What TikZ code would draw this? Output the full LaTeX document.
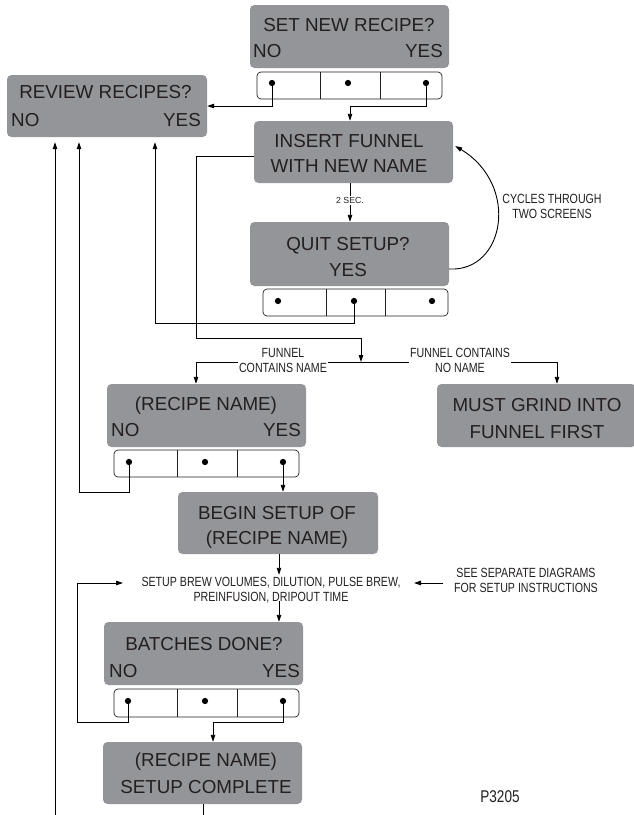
\documentclass[tikz,border=0pt]{standalone}
\usepackage{fontspec}
\setmainfont{Liberation Sans}
\newfontfamily\condfont[FakeStretch=0.8]{Liberation Sans}
\usetikzlibrary{arrows.meta,calc}
\definecolor{boxgray}{HTML}{939598}
\definecolor{ink}{HTML}{231F20}
\begin{document}
\begin{tikzpicture}[x=1pt,y=-1pt,
  scr/.style={fill=boxgray, rounded corners=4.5pt, inner sep=0pt, minimum width=199pt, minimum height=63pt},
  btns/.style={draw=ink, line width=0.7pt, fill=white, rounded corners=4pt, inner sep=0pt, minimum width=185pt, minimum height=27pt},
  divider/.style={draw=ink, line width=0.7pt},
  dot/.style={circle, fill=black, inner sep=0pt, minimum size=6.3pt},
  big/.style={text=ink, font=\fontsize{18.8}{22}\selectfont, inner sep=0pt, anchor=base},
  small/.style={text=ink, font=\condfont\fontsize{13.3}{15}\selectfont, align=center, inner sep=1pt},
  conn/.style={draw=black, line width=0.9pt},
  arr/.style={conn, -{Triangle[length=7pt,width=4.5pt]}},
]
\useasboundingbox[fill=white] (0,0) rectangle (633,815);

% ---------- screens ----------
\node[scr] (setnew) at (349.5,36.5) {};
\node[big] (setnewT) at (349,31) {SET NEW RECIPE?};
\node[big, anchor=base west] (setnewNo) at (253,57) {NO};
\node[big, anchor=base east] (setnewYes) at (443,57) {YES};

\node[scr, minimum width=200pt, minimum height=62pt] (review) at (107,106) {};
\node[big] (reviewT) at (105.5,98.6) {REVIEW RECIPES?};
\node[big, anchor=base west] (reviewNo) at (11,126.6) {NO};
\node[big, anchor=base east] (reviewYes) at (201,126.6) {YES};

\node[scr, minimum height=62pt] (insert) at (353.5,152) {};
\node[big] (insertA) at (349,147) {INSERT FUNNEL};
\node[big] (insertB) at (349,172.6) {WITH NEW NAME};

\node[scr, minimum height=64pt] (quit) at (349.5,254) {};
\node[big] (quitA) at (348,250) {QUIT SETUP?};
\node[big] (quitB) at (348,276.6) {YES};

\node[scr] (recipe) at (206.5,415.5) {};
\node[big] (recipeT) at (206,410.6) {(RECIPE NAME)};
\node[big, anchor=base west] (recipeNo) at (111,436.5) {NO};
\node[big, anchor=base east] (recipeYes) at (301,436.5) {YES};

\node[scr] (must) at (536.5,415.5) {};
\node[big] (mustA) at (537,411.6) {MUST GRIND INTO};
\node[big] (mustB) at (537,438) {FUNNEL FIRST};

\node[scr, minimum width=200pt, minimum height=62pt] (begin) at (278,523) {};
\node[big] (beginA) at (277,519) {BEGIN SETUP OF};
\node[big] (beginB) at (277,544) {(RECIPE NAME)};

\node[scr] (batches) at (203.5,653.5) {};
\node[big] (batchesT) at (204,650) {BATCHES DONE?};
\node[big, anchor=base west] (batchesNo) at (109,677) {NO};
\node[big, anchor=base east] (batchesYes) at (300,677) {YES};

\node[scr, minimum height=62pt] (complete) at (202.5,773) {};
\node[big] (completeA) at (206,766) {(RECIPE NAME)};
\node[big] (completeB) at (206,793) {SETUP COMPLETE};

% ---------- button rows ----------
\node[btns] (b1) at (349.5,85.5) {};
\draw[divider] (320,72) -- (320,99) (380,72) -- (380,99);
\node[dot] (b1l) at (272,83) {};
\node[dot] (b1m) at (348,83) {};
\node[dot] (b1r) at (426,83) {};

\node[btns] (b2) at (355.5,302.5) {};
\draw[divider] (326,289) -- (326,316) (385,289) -- (385,316);
\node[dot] (b2l) at (278,301) {};
\node[dot] (b2m) at (354,301) {};
\node[dot] (b2r) at (432,301) {};

\node[btns] (b3) at (206.5,463.5) {};
\draw[divider] (177,450) -- (177,477) (237,450) -- (237,477);
\node[dot] (b3l) at (129,462) {};
\node[dot] (b3m) at (205,462) {};
\node[dot] (b3r) at (283,462) {};

\node[btns, minimum height=28pt] (b4) at (206.5,703) {};
\draw[divider] (177,689) -- (177,717) (237,689) -- (237,717);
\node[dot] (b4l) at (128,701) {};
\node[dot] (b4m) at (205,701) {};
\node[dot] (b4r) at (283,701) {};

% ---------- free texts ----------
\node[small] (cycles) at (552,206.5) {CYCLES THROUGH\\TWO SCREENS};
\node[small] (setuptxt) at (271,590) {SETUP BREW VOLUMES, DILUTION, PULSE BREW,\\PREINFUSION, DRIPOUT TIME};
\node[small] (seetxt) at (526,580.5) {SEE SEPARATE DIAGRAMS\\FOR SETUP INSTRUCTIONS};
\node[text=ink, font=\condfont\fontsize{17}{20}\selectfont, inner sep=0pt] (pnum) at (500,797) {P3205};

% ---------- helper coordinates ----------
\coordinate (split) at (361,362);
\coordinate (ax) at (279,0);
\coordinate (loopin) at (123,583);
\coordinate (seefrom) at (443,583);
\coordinate (seeto) at (414,583);
\coordinate (bottomend) at (203,815);
\coordinate (leftbottom) at (55,815);

% ---------- connectors ----------
\draw[arr] (b1l.center) |- (review.east);
\draw[arr] (b1r.center) -- ++(0,23) -| ([xshift=-3.5pt]insert.north);
\draw[arr] ([xshift=-3.5pt]insert.south) -- node[pos=0.45, fill=white, inner sep=1pt, text=ink, font=\fontsize{8.8}{10}\selectfont] (twosec) {2 SEC.} ([xshift=0.5pt]quit.north);
\draw[arr] ([yshift=-15pt]quit.east) .. controls (505,272) and (520,185) .. ([xshift=2pt,yshift=6pt]insert.east);
\draw[arr, shorten >=5pt] (b2m.center) -- ++(0,22) -| ([xshift=48pt]review.south);
\draw[arr] ([yshift=-4pt]insert.west) -| (196,338) -| (split);
\draw[arr] (split) -| ([xshift=-10.5pt]recipe.north);
\draw[arr] (split) -| ([xshift=20.5pt]must.north);
\node[small, fill=white] (lblname) at (283,360.5) {FUNNEL\\CONTAINS NAME};
\node[small, fill=white] (lblnoname) at (460,360.5) {FUNNEL CONTAINS\\NO NAME};
\draw[arr, shorten >=5pt] (b3l.center) -- ++(0,30) -| ([xshift=-28pt]review.south);
\draw[arr] (b3r.center) -- (b3r.center |- begin.north);
\draw[arr] (begin.south -| ax) -- ([yshift=1pt]setuptxt.north -| ax);
\draw[arr] ([yshift=3pt]setuptxt.south -| ax) -- (batches.north -| ax);
\draw[arr] (b4l.center) -- ++(0,21) -| (77,583) -- (loopin);
\draw[arr] (b4r.center) -- ++(0,21) -| ([xshift=10.5pt]complete.north);
\draw[conn] ([xshift=0.5pt]complete.south) -- (bottomend);
\draw[arr, shorten >=5pt] (leftbottom) -- ([xshift=-52pt]review.south);
\draw[arr] (seefrom) -- (seeto);
\end{tikzpicture}
\end{document}
